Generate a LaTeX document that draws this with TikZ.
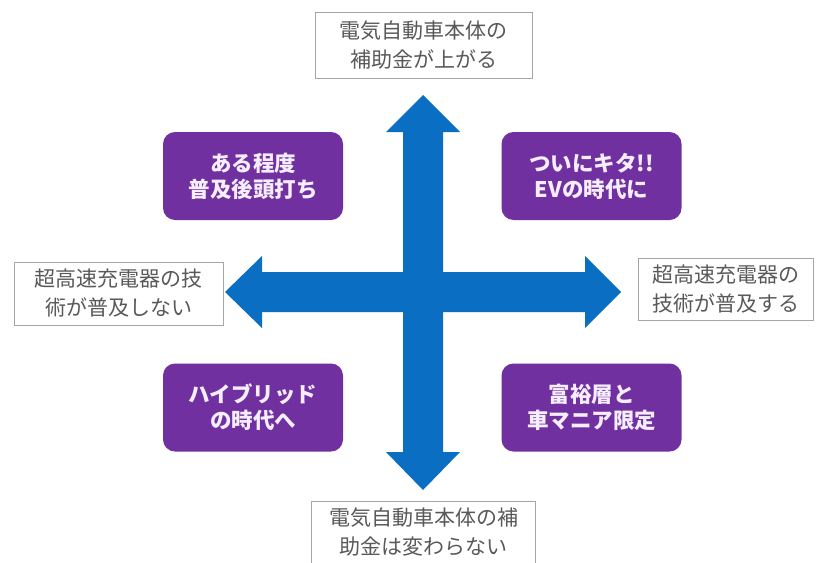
\documentclass[tikz,border=0pt]{standalone}
\usepackage{fontspec}
\newfontfamily\jp{Noto Sans CJK JP}
\definecolor{arrowblue}{HTML}{0A6EC2}
\definecolor{boxpurple}{HTML}{7030A0}
\definecolor{lightlav}{HTML}{F6EEFF}
\definecolor{graytext}{HTML}{595959}
\definecolor{grayline}{HTML}{A6A6A6}
\tikzset{
  outerbox/.style={draw=grayline, line width=1pt, fill=white, text=graytext, align=center,
    font=\jp\fontsize{21}{29}\selectfont, inner sep=0pt},
  purplebox/.style={fill=boxpurple, rounded corners=12pt, text=lightlav, align=center,
    font=\jp\bfseries\fontsize{21.5}{26}\selectfont, minimum width=180pt, minimum height=88pt, inner sep=0pt},
  bigarrow/.style={fill=arrowblue, draw=none}
}
\begin{document}
\begin{tikzpicture}[x=1pt,y=-1pt]
\clip (0,0) rectangle (818,562);
\fill[white] (0,0) rectangle (818,562);
% arrows
\coordinate (c) at (423,292);
\fill[bigarrow] (423,95) -- (460,132) -- (443,132) -- (443,452) -- (460,452) -- (423,490)
  -- (386,452) -- (403,452) -- (403,132) -- (386,132) -- cycle;
\fill[bigarrow] (225,292) -- (262,256) -- (262,272) -- (585,272) -- (585,256) -- (621,292)
  -- (585,328) -- (585,312) -- (262,312) -- (262,328) -- cycle;
% outer boxes
\node[outerbox, minimum width=217pt, minimum height=66pt] (top) at (423.5,45)
  {電気自動車本体の\\補助金が上がる};
\node[outerbox, minimum width=209pt, minimum height=63pt] (left) at (118.5,293.5)
  {超高速充電器の技\\術が普及しない};
\node[outerbox, minimum width=175pt, minimum height=62pt] (right) at (725.5,289)
  {超高速充電器の\\技術が普及する};
\node[outerbox, draw=none, fill=none, minimum width=223pt, minimum height=60pt] (bot) at (423.5,532)
  {電気自動車本体の補\\助金は変わらない};
\draw[grayline, line width=1pt] ([yshift=-30pt]bot.south west) -- (bot.north west) -- (bot.north east) -- ([yshift=-30pt]bot.south east);
% purple boxes
\node[purplebox] (tl) at (253,176) {ある程度\\普及後頭打ち};
\node[purplebox] (tr) at (591.5,176) {ついにキタ!!\\EVの時代に};
\node[purplebox] (bl) at (253,407.5) {ハイブリッド\\の時代へ};
\node[purplebox] (br) at (591.5,407.5) {富裕層と\\車マニア限定};
\end{tikzpicture}
\end{document}
